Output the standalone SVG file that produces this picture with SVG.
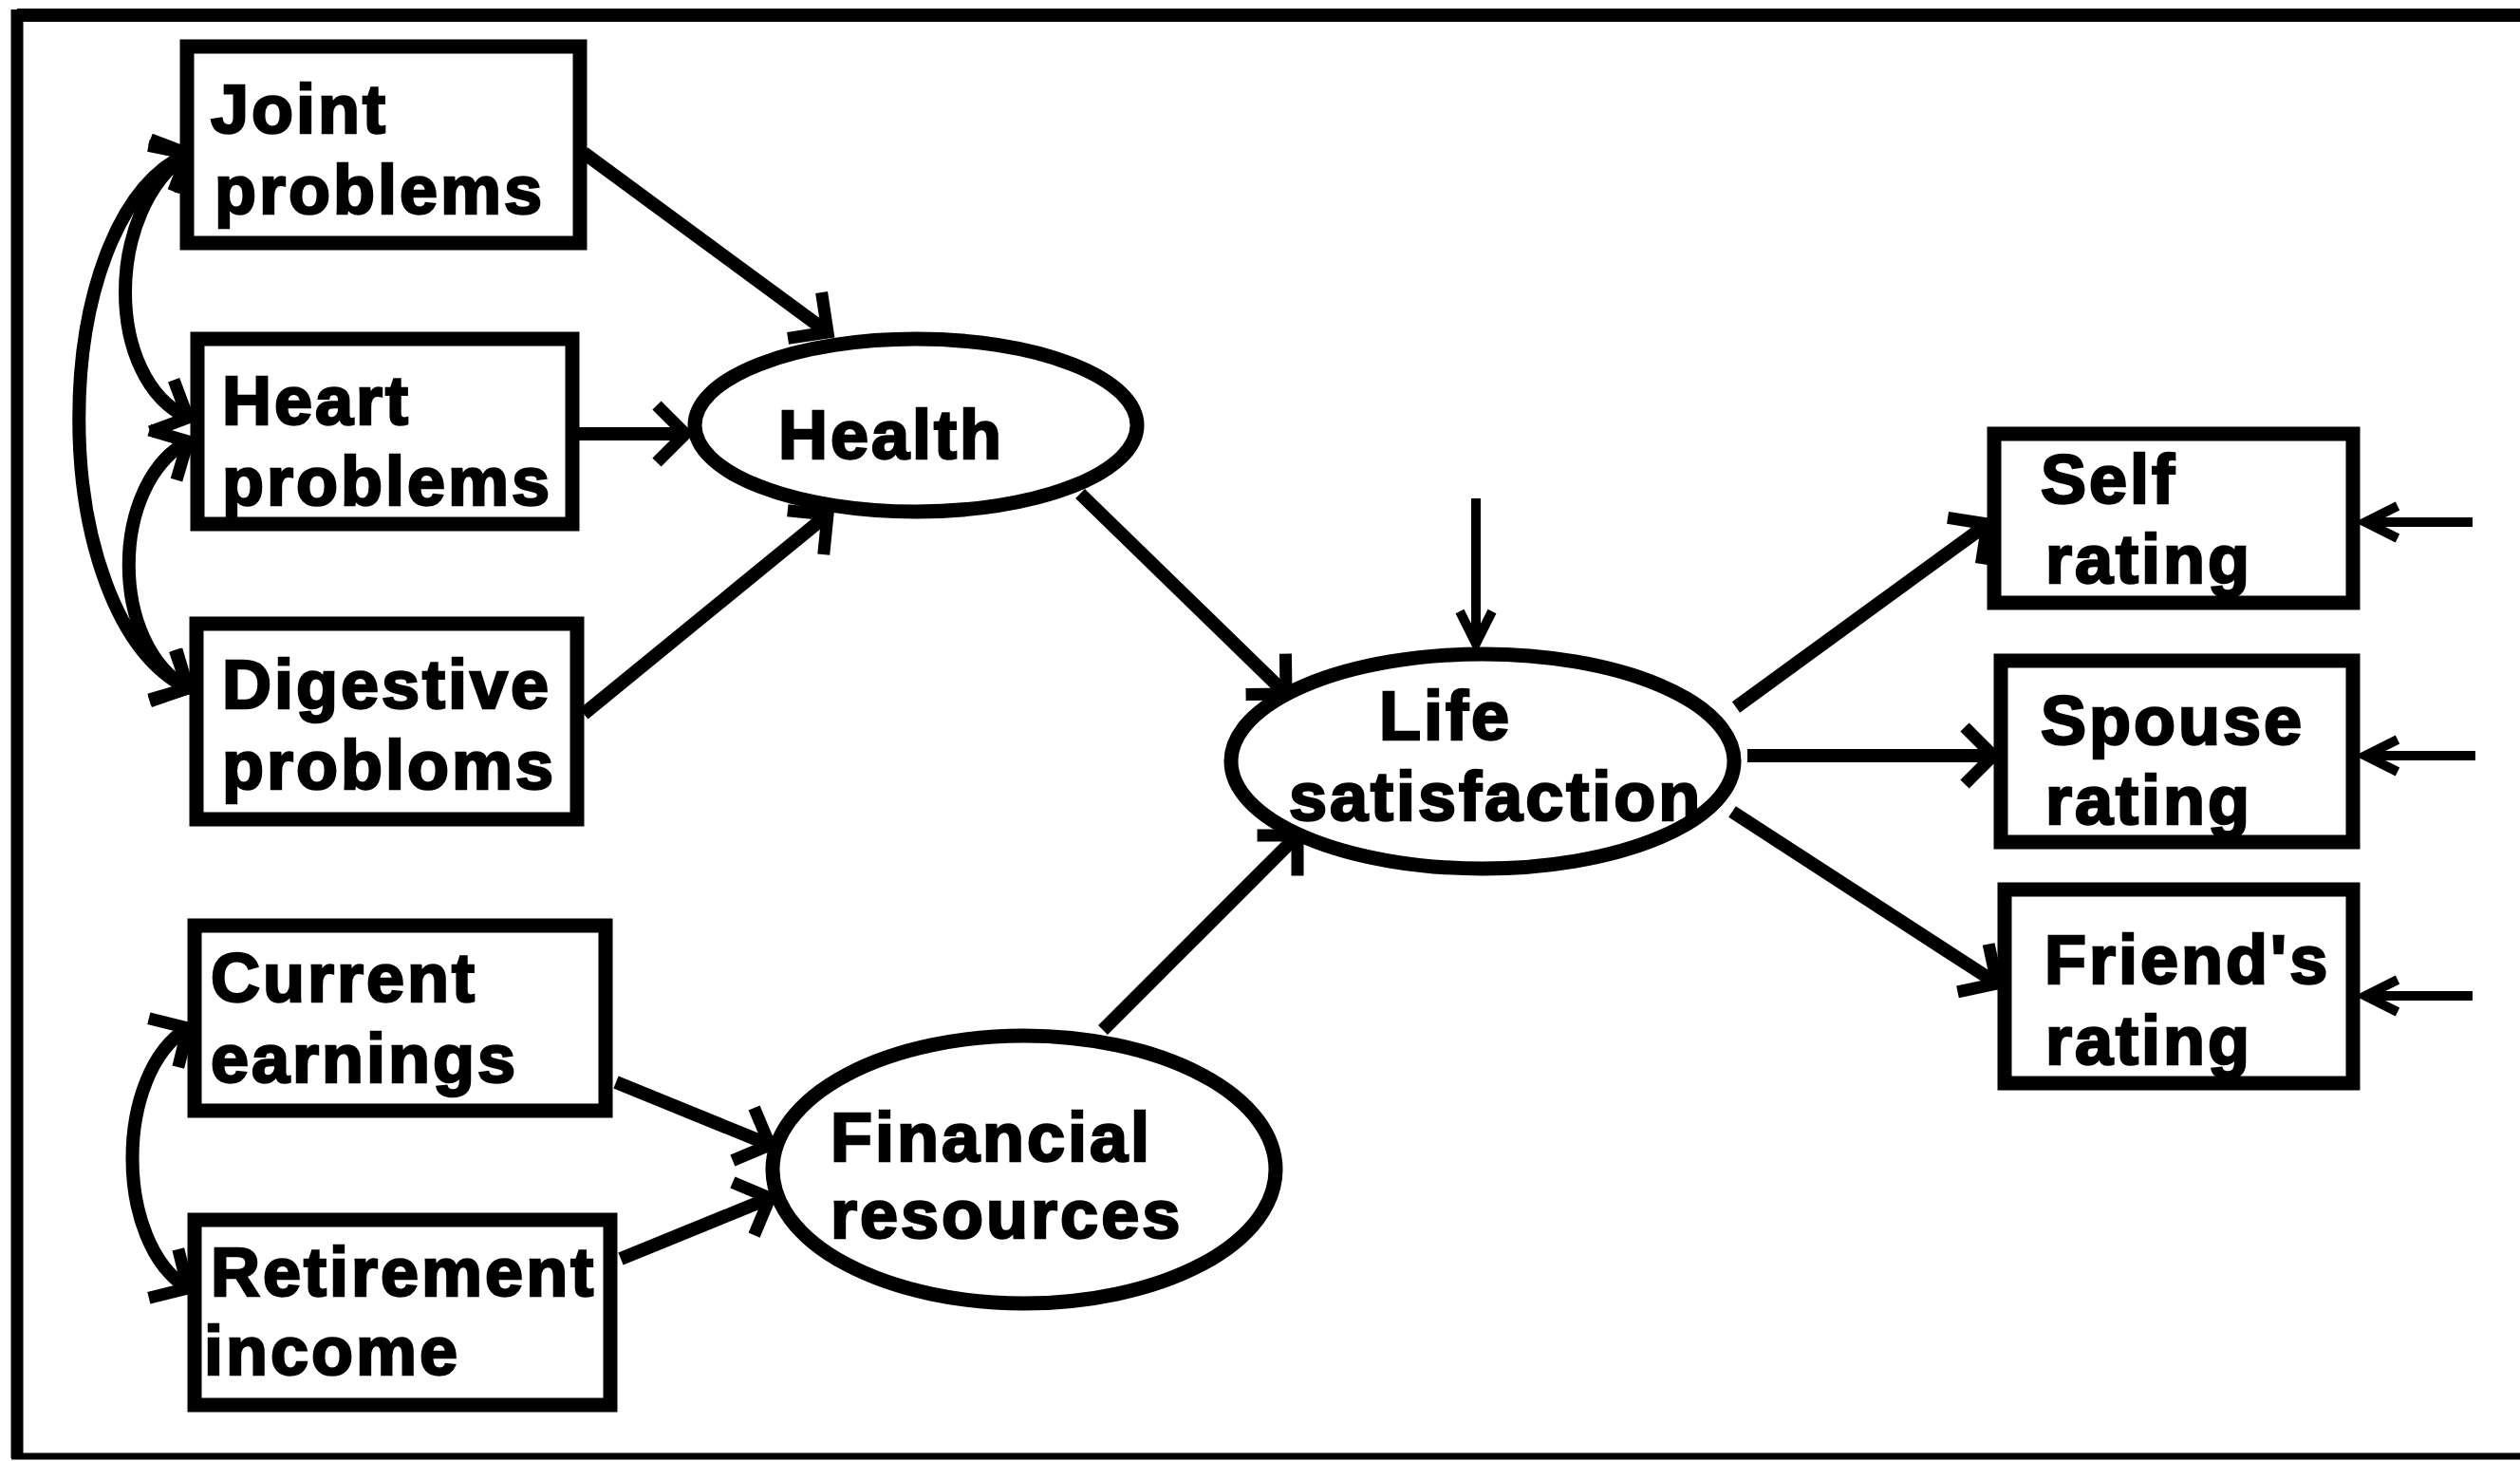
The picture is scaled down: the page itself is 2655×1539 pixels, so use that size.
<svg xmlns="http://www.w3.org/2000/svg" width="2655" height="1539" viewBox="0 0 2655 1539">
<style>
.box{fill:#fff;stroke:#000;stroke-width:15}
.ell{fill:#fff;stroke:#000;stroke-width:15}
.lbl{font-family:"Liberation Sans",Arial,sans-serif;font-weight:bold;font-size:72px;letter-spacing:3px;fill:#000;stroke:#000;stroke-width:2.5}
.con{fill:none;stroke:#000;stroke-width:14}
.err{fill:none;stroke:#000;stroke-width:10}
.frame{stroke:#000;fill:none}
</style>
<defs>
<marker id="ah" markerUnits="userSpaceOnUse" viewBox="-50 -50 60 100" markerWidth="60" markerHeight="100" refX="0" refY="0" orient="auto-start-reverse">
<path d="M -30,-30 L 0,0 L -30,30" fill="none" stroke="#000" stroke-width="13"/>
</marker>
<marker id="ahs" markerUnits="userSpaceOnUse" viewBox="-50 -50 60 100" markerWidth="60" markerHeight="100" refX="0" refY="0" orient="auto">
<path d="M -34,-17 L 0,0 L -34,17" fill="none" stroke="#000" stroke-width="10"/>
</marker>
</defs>
<rect x="0" y="0" width="2655" height="1539" fill="#fff"/>
<g id="frame">
<line class="frame" x1="18" y1="16" x2="2655" y2="16" stroke-width="14"/>
<line class="frame" x1="18" y1="10" x2="18" y2="1536" stroke-width="13"/>
<line class="frame" x1="12" y1="1534" x2="2655" y2="1534" stroke-width="7"/>
</g>
<g id="connectors">
<line class="con" x1="615" y1="161" x2="872" y2="350" marker-end="url(#ah)"/>
<line class="con" x1="610" y1="457" x2="722" y2="457" marker-end="url(#ah)"/>
<line class="con" x1="615" y1="752" x2="872" y2="542" marker-end="url(#ah)"/>
<line class="con" x1="1138" y1="520" x2="1355" y2="731" marker-end="url(#ah)"/>
<line class="con" x1="1162" y1="1085" x2="1367" y2="880" marker-end="url(#ah)"/>
<line class="con" x1="649" y1="1140" x2="811" y2="1206" marker-end="url(#ah)"/>
<line class="con" x1="654" y1="1326" x2="811" y2="1262" marker-end="url(#ah)"/>
<line class="con" x1="1829" y1="745" x2="2094" y2="552" marker-end="url(#ah)"/>
<line class="con" x1="1841" y1="796" x2="2100" y2="796" marker-end="url(#ah)"/>
<line class="con" x1="1825" y1="855" x2="2104" y2="1036" marker-end="url(#ah)"/>
<path class="con" d="M 198,162 C 45,230 45,650 198,725" marker-start="url(#ah)" marker-end="url(#ah)"/>
<path class="con" d="M 198,162 C 110,220 110,400 198,440" marker-start="url(#ah)" marker-end="url(#ah)"/>
<path class="con" d="M 198,465 C 115,510 115,680 198,725" marker-start="url(#ah)" marker-end="url(#ah)"/>
<path class="con" d="M 198,1083 C 120,1130 120,1310 198,1357" marker-start="url(#ah)" marker-end="url(#ah)"/>
<line class="err" x1="1555" y1="525" x2="1555" y2="678" marker-end="url(#ahs)"/>
<line class="err" x1="2605" y1="550" x2="2492" y2="550" stroke-width="12" marker-end="url(#ahs)"/>
<line class="err" x1="2608" y1="796" x2="2492" y2="796" stroke-width="12" marker-end="url(#ahs)"/>
<line class="err" x1="2605" y1="1049" x2="2492" y2="1049" stroke-width="12" marker-end="url(#ahs)"/>
</g>
<g id="joint">
<rect class="box" x="197" y="49" width="414" height="207"/>
<text class="lbl" x="222" y="140">Joint</text>
<text class="lbl" x="226" y="225">problems</text>
</g>
<g id="heart">
<rect class="box" x="208" y="357" width="395" height="195"/>
<text class="lbl" x="234" y="447">Heart</text>
<text class="lbl" x="234" y="532">problems</text>
</g>
<g id="digestive">
<rect class="box" x="207" y="657" width="401" height="206"/>
<text class="lbl" x="234" y="746">Digestive</text>
<text class="lbl" x="234" y="831">probloms</text>
</g>
<g id="current">
<rect class="box" x="205" y="975" width="433" height="195"/>
<text class="lbl" x="222" y="1055">Current</text>
<text class="lbl" x="222" y="1140">earnings</text>
</g>
<g id="retirement">
<rect class="box" x="205" y="1285" width="438" height="195"/>
<text class="lbl" x="222" y="1365">Retirement</text>
<text class="lbl" x="215" y="1448">income</text>
</g>
<g id="health">
<ellipse class="ell" cx="965" cy="448" rx="233" ry="91"/>
<text class="lbl" x="820" y="483">Health</text>
</g>
<g id="life">
<ellipse class="ell" cx="1562" cy="802" rx="265" ry="113"/>
<text class="lbl" x="1453" y="779">Life</text>
<text class="lbl" x="1358" y="864">satisfaction</text>
</g>
<g id="financial">
<ellipse class="ell" cx="1079" cy="1232" rx="265" ry="141"/>
<text class="lbl" x="875" y="1223">Financial</text>
<text class="lbl" x="875" y="1304">resources</text>
</g>
<g id="self">
<rect class="box" x="2101" y="457" width="378" height="178"/>
<text class="lbl" x="2150" y="530">Self</text>
<text class="lbl" x="2155" y="614">rating</text>
</g>
<g id="spouse">
<rect class="box" x="2108" y="696" width="371" height="191"/>
<text class="lbl" x="2150" y="784">Spouse</text>
<text class="lbl" x="2155" y="868">rating</text>
</g>
<g id="friend">
<rect class="box" x="2112" y="937" width="367" height="204"/>
<text class="lbl" x="2154" y="1036">Friend's</text>
<text class="lbl" x="2155" y="1121">rating</text>
</g>
</svg>
